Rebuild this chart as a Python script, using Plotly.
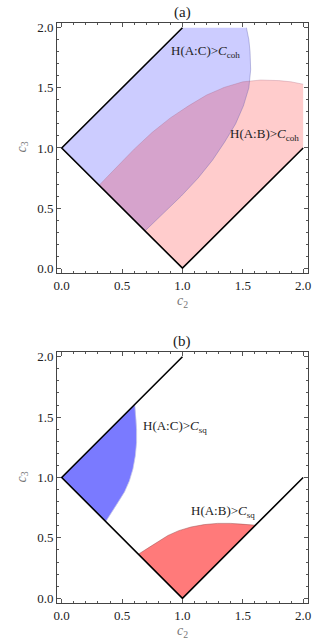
import plotly.graph_objects as go

# boundary curves (c2, c3)
# panel (a): H(A:B) > C_coh boundary, from the lower-left edge to c2 = 2
coh_ab_c2 = [0.31, 0.45, 0.60, 0.75, 0.90, 1.05, 1.20, 1.35, 1.50, 1.65, 1.80, 1.90, 2.00]
coh_ab_c3 = [0.69, 0.835, 0.99, 1.13, 1.25, 1.35, 1.44, 1.505, 1.55, 1.565, 1.56, 1.55, 1.53]
# H(A:C) > C_coh boundary (mirror image, c2 <-> c3), from c3 = 2 down to the edge
coh_ac_c2 = coh_ab_c3[::-1]
coh_ac_c3 = coh_ab_c2[::-1]

# panel (b): H(A:C) > C_sq boundary, from the upper-left edge down to the lower-left edge
sq_ac_c2 = [0.605, 0.615, 0.62, 0.62, 0.61, 0.59, 0.56, 0.52, 0.47, 0.42, 0.365]
sq_ac_c3 = [1.605, 1.50, 1.40, 1.29, 1.18, 1.07, 0.97, 0.88, 0.80, 0.72, 0.635]
# H(A:B) > C_sq boundary, from the lower-left edge to the lower-right edge
sq_ab_c2 = sq_ac_c3[::-1]
sq_ab_c3 = sq_ac_c2[::-1]

# edges of the allowed region
edge_c2 = [1.0, 0.0, 1.0, 2.0]
edge_c3 = [2.0, 1.0, 0.0, 1.0]
c_max = 2.0

BLUE_A = "rgba(0,0,255,0.2)"
RED_A = "rgba(255,0,0,0.2)"
BLUE_B = "rgba(0,0,255,0.52)"
RED_B = "rgba(255,0,0,0.52)"
SERIF = "Liberation Serif"
H, W = 639, 332

fig = go.Figure()


def fill(x, y, color, xa, ya):
    fig.add_trace(go.Scatter(x=x, y=y, fill="toself", fillcolor=color, mode="none",
                             hoverinfo="skip", showlegend=False, xaxis=xa, yaxis=ya))


def curve(x, y, color, xa, ya, width=0.8):
    fig.add_trace(go.Scatter(x=x, y=y, mode="lines", line=dict(color=color, width=width),
                             hoverinfo="skip", showlegend=False, xaxis=xa, yaxis=ya))


# ---- panel (a)
fill([edge_c2[1], edge_c2[0]] + coh_ac_c2, [edge_c3[1], c_max] + coh_ac_c3, BLUE_A, "x", "y")
fill(coh_ab_c2 + [c_max, edge_c2[3], edge_c2[2]], coh_ab_c3 + [edge_c3[3], edge_c3[3], edge_c3[2]],
     RED_A, "x", "y")
curve(coh_ac_c2, coh_ac_c3, "rgba(90,90,170,0.45)", "x", "y")
curve(coh_ab_c2, coh_ab_c3, "rgba(160,90,120,0.35)", "x", "y")
curve(edge_c2, edge_c3, "black", "x", "y", 1.6)

# ---- panel (b)
fill([edge_c2[1]] + sq_ac_c2, [edge_c3[1]] + sq_ac_c3, BLUE_B, "x2", "y2")
fill(sq_ab_c2 + [edge_c2[2]], sq_ab_c3 + [edge_c3[2]], RED_B, "x2", "y2")
curve(sq_ac_c2, sq_ac_c3, "rgba(200,200,230,0.9)", "x2", "y2")
curve(sq_ab_c2, sq_ab_c3, "rgba(150,80,80,0.6)", "x2", "y2")
curve(edge_c2, edge_c3, "black", "x2", "y2", 1.6)

axis_common = dict(
    range=[-0.04, 2.04], tickvals=[0, 0.5, 1.0, 1.5, 2.0], tickformat=".1f",
    ticks="inside", ticklen=4, tickcolor="#555", tickwidth=0.8,
    minor=dict(dtick=0.1, ticks="inside", ticklen=2, tickcolor="#555", tickwidth=0.7),
    showline=True, linecolor="#444", linewidth=0.8, mirror="ticks",
    showgrid=False, zeroline=False, automargin=False,
    tickfont=dict(family=SERIF, size=13, color="#222"),
    fixedrange=True,
)

xdom = [56.9 / W, 308 / W]
fig.update_layout(
    width=W, height=H,
    margin=dict(l=0, r=0, t=0, b=0),
    paper_bgcolor="white", plot_bgcolor="white",
    xaxis=dict(axis_common, domain=xdom, anchor="y"),
    yaxis=dict(axis_common, domain=[1 - 273 / H, 1 - 22.9 / H], anchor="x"),
    xaxis2=dict(axis_common, domain=xdom, anchor="y2"),
    yaxis2=dict(axis_common, domain=[1 - 603.1 / H, 1 - 351.9 / H], anchor="x2"),
)

label_font = dict(family=SERIF, size=13, color="#222")
fig.add_annotation(x=1.195, y=1.80, xref="x", yref="y", showarrow=False, font=label_font,
                   text="H(A:C)&gt;<i>C</i><sub>coh</sub>")
fig.add_annotation(x=1.683, y=1.108, xref="x", yref="y", showarrow=False, font=label_font,
                   text="H(A:B)&gt;<i>C</i><sub>coh</sub>")
fig.add_annotation(x=0.941, y=1.42, xref="x2", yref="y2", showarrow=False, font=label_font,
                   text="H(A:C)&gt;<i>C</i><sub>sq</sub>")
fig.add_annotation(x=1.339, y=0.717, xref="x2", yref="y2", showarrow=False, font=label_font,
                   text="H(A:B)&gt;<i>C</i><sub>sq</sub>")

title_font = dict(family=SERIF, size=15, color="#222")
axis_font = dict(family=SERIF, size=14, color="#777")
cx = (xdom[0] + xdom[1]) / 2
for ttl, ty, xy, yy in [("(a)", 12, 301, 147.5), ("(b)", 341.7, 631, 477.5)]:
    fig.add_annotation(x=cx, y=1 - ty / H, xref="paper", yref="paper", showarrow=False,
                       xanchor="center", yanchor="middle", font=title_font, text=ttl)
    fig.add_annotation(x=cx, y=1 - xy / H, xref="paper", yref="paper", showarrow=False,
                       xanchor="center", yanchor="middle", font=axis_font,
                       text="<i>c</i><sub>2</sub>")
    fig.add_annotation(x=22 / W, y=1 - yy / H, xref="paper", yref="paper", showarrow=False,
                       xanchor="center", yanchor="middle", font=axis_font,
                       text="<i>c</i><sub>3</sub>", textangle=-90)

# the page body has a default 8px margin; drop it so the figure fills the window
fig.write_html("out.html", config={"displayModeBar": False},
               post_script="document.body.style.margin='0';")
